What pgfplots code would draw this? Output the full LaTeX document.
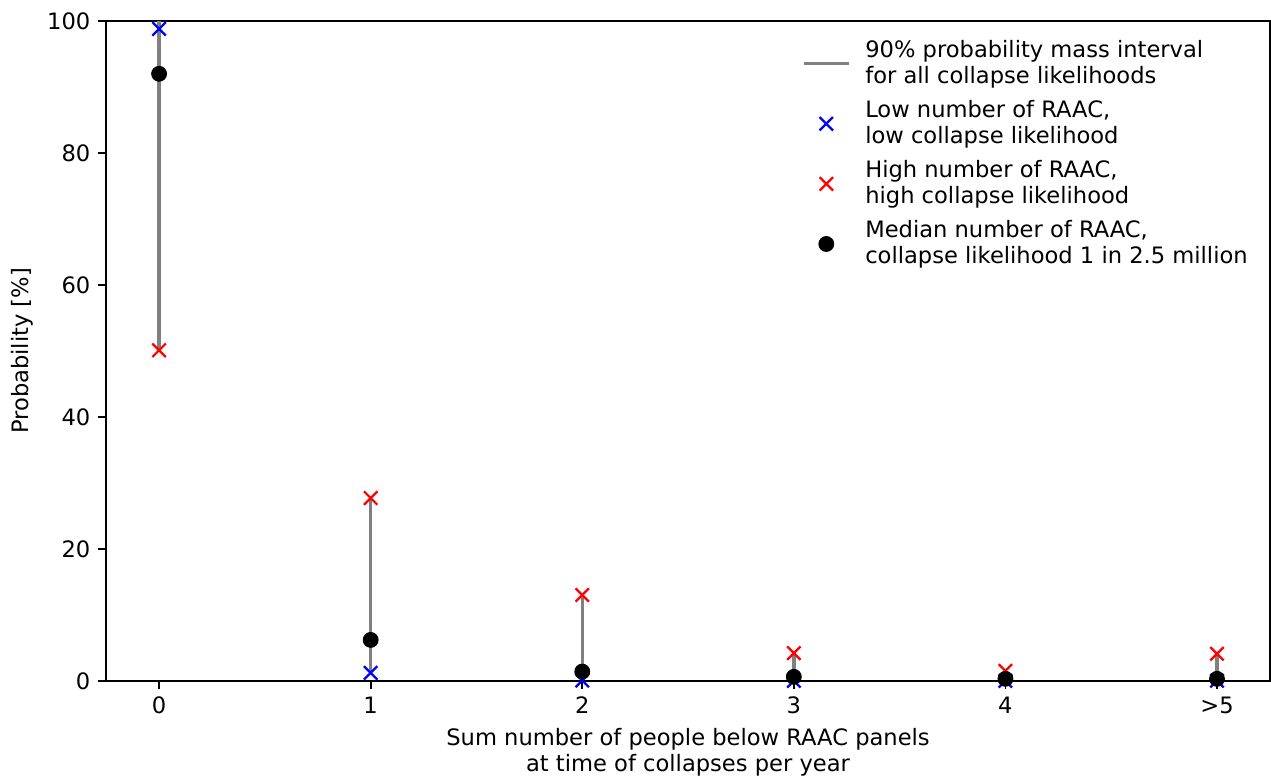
\documentclass[border=0pt]{standalone}
\usepackage{fontspec}
\setmainfont{DejaVu Sans}
\usepackage{pgfplots}
\pgfplotsset{compat=1.18}
\pgfplotsset{
  legmark/.style={legend image code/.code={\draw[##1] plot coordinates {(10pt,0pt)}; \path (0pt,0pt) (24.5pt,0pt);}},
  legline/.style={legend image code/.code={\draw[##1] (0pt,0pt) -- (20pt,0pt); \path (24.5pt,0pt);}},
}
\begin{document}
\begin{tikzpicture}
\begin{axis}[
  scale only axis,
  width=515pt, height=292pt,
  xmin=-0.25, xmax=5.25,
  ymin=0, ymax=100,
  xtick={0,1,2,3,4,5},
  xticklabels={0,1,2,3,4,{>5}},
  ytick={0,20,40,60,80,100},
  tick align=outside,
  major tick length=3.5pt,
  tick style={line width=0.8pt, black},
  axis line style={line width=0.8pt},
  xtick pos=bottom, ytick pos=left,
  /pgf/number format/assume math mode=true,
  ticklabel style={font=\fontsize{10}{12}\selectfont},
  ylabel={Probability [\%]},
  ylabel style={at={(axis description cs:-0.072,0.5)}, anchor=center},
  xlabel={Sum number of people below RAAC panels\\at time of collapses per year},
  xlabel style={align=center, at={(axis description cs:0.5,-0.109)}, anchor=center, font=\fontsize{10}{11.5}\selectfont},
  unbounded coords=jump,
  legend cell align=left,
  legend style={draw=none, fill=none, at={(0.991,0.985)}, anchor=north east,
    font=\fontsize{10}{11.5}\selectfont, row sep=2pt,
    cells={align=left}},
]
\addplot[gray, line width=1.5pt, legline]
  coordinates {
  (0,50.1) (0,100) (0,nan)
  (1,1.2) (1,27.7) (1,nan)
  (2,0) (2,13.0) (2,nan)
  (3,0) (3,4.2) (3,nan)
  (4,0) (4,1.5) (4,nan)
  (5,0) (5,4.1)
  };
\addlegendentry{90\% probability mass interval\\for all collapse likelihoods}
\addplot[only marks, mark=x, mark size=4.2pt, blue, line width=1pt, legmark]
  coordinates {(0,98.8) (1,1.2) (2,0.05) (3,0) (4,0) (5,0)};
\addlegendentry{Low number of RAAC,\\low collapse likelihood}
\addplot[only marks, mark=x, mark size=4.2pt, red, line width=1pt, legmark]
  coordinates {(0,50.1) (1,27.7) (2,13.0) (3,4.2) (4,1.5) (5,4.1)};
\addlegendentry{High number of RAAC,\\high collapse likelihood}
\addplot[only marks, mark=*, mark size=3.3pt, black, legmark]
  coordinates {(0,92.0) (1,6.2) (2,1.4) (3,0.6) (4,0.3) (5,0.3)};
\addlegendentry{Median number of RAAC,\\collapse likelihood 1 in 2.5 million}
\end{axis}
\pgfresetboundingbox
\path[use as bounding box] ([xshift=-47pt,yshift=-42pt]current axis.south west) rectangle ([xshift=0.5pt,yshift=9.3pt]current axis.north east);
\end{tikzpicture}
\end{document}
